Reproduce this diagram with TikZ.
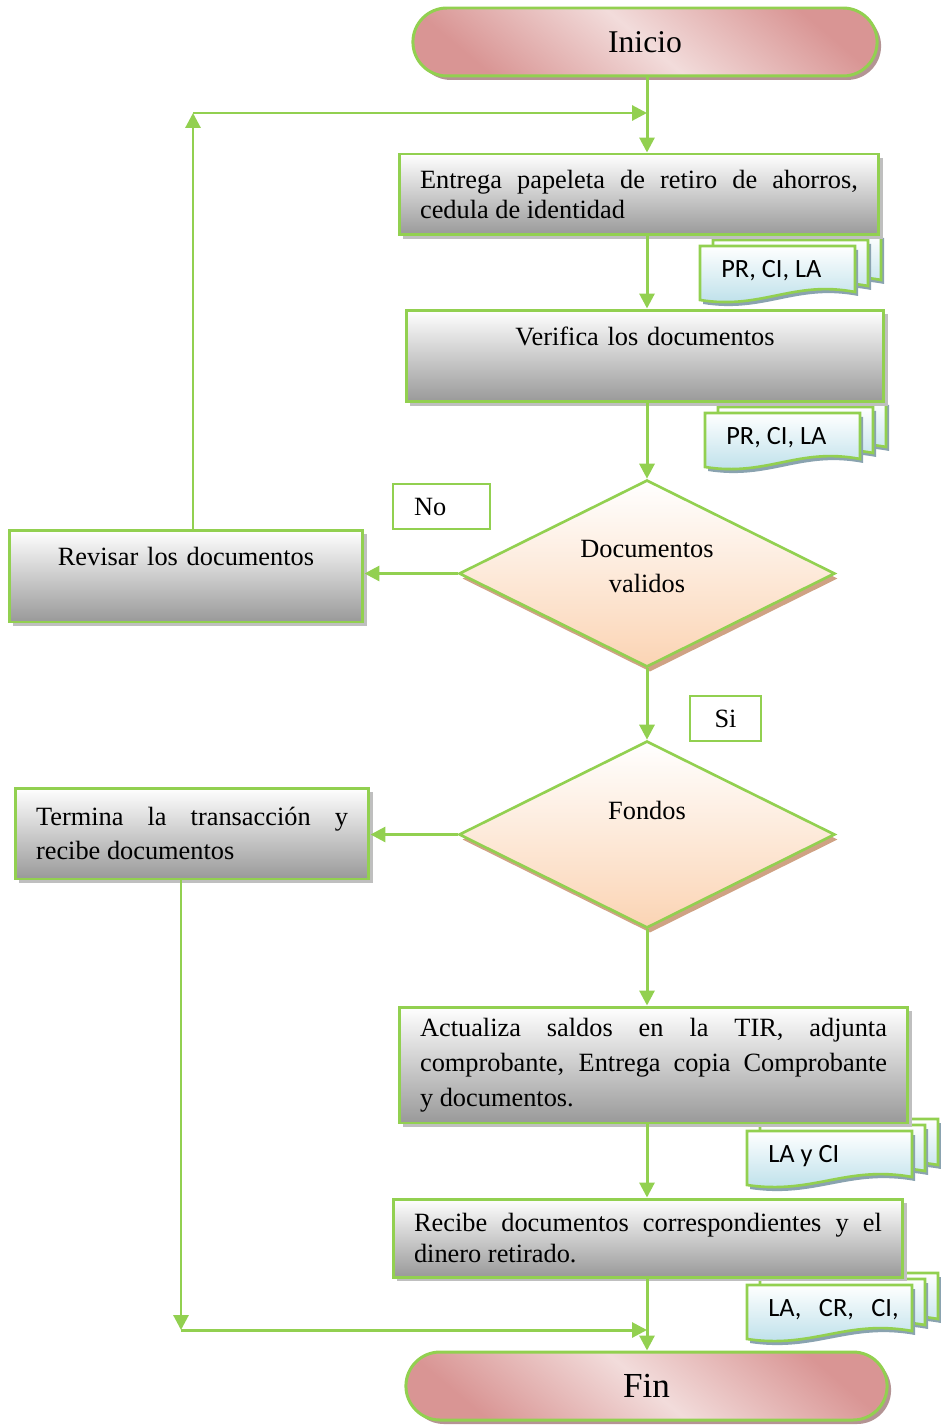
\documentclass[tikz,border=0pt]{standalone}
\usepackage{fontspec}
\setmainfont{Liberation Serif}
\newfontfamily\docfont{Carlito}
\usepackage{xcolor}
\usepackage{tikz}
\usetikzlibrary{shapes.geometric, shapes.misc, shadows, arrows.meta}

\definecolor{lime}{HTML}{92D050}
\definecolor{pinkdark}{HTML}{D99594}
\definecolor{pinklight}{HTML}{F2DCDB}
\definecolor{pinkshadow}{HTML}{B49494}
\definecolor{peach}{HTML}{FBD4B4}
\definecolor{peachshadow}{HTML}{CFA284}
\definecolor{docblue}{HTML}{B6DDE8}
\definecolor{docshadow}{HTML}{8AA3B0}
\definecolor{boxgray}{HTML}{999999}
\definecolor{boxshadow}{HTML}{BFBFBF}

\hyphenpenalty=10000
\exhyphenpenalty=10000

\begin{document}
\begin{tikzpicture}[x=0.02cm, y=-0.02cm,
        term/.style={draw=lime, line width=1.7pt, rounded rectangle, minimum height=1.36cm,
            top color=pinkdark, bottom color=pinkdark, middle color=pinklight, shading angle=-40,
            drop shadow={shadow xshift=0.08cm, shadow yshift=-0.08cm, fill=pinkshadow, opacity=1}},
        proc/.style={draw=lime, line width=1.7pt, top color=white, bottom color=boxgray,
            drop shadow={shadow xshift=0.08cm, shadow yshift=-0.08cm, fill=boxshadow, opacity=1},
            inner xsep=0.42cm, inner ysep=0pt, align=justify, font=\fontsize{15}{19.8}\selectfont},
        decision/.style={diamond, draw=lime, line width=1.5pt, minimum width=7.52cm, minimum height=3.74cm,
            inner sep=0pt, top color=white, bottom color=peach,
            drop shadow={shadow xshift=0.06cm, shadow yshift=-0.1cm, fill=peachshadow, opacity=1}},
        answer/.style={align=center, font=\fontsize{15}{20}\selectfont},
        tag/.style={draw=lime, line width=1.2pt, fill=white, minimum height=0.9cm, font=\fontsize{15}{18}\selectfont},
        sheet/.style={draw=lime, line width=1.5pt, top color=white, bottom color=docblue,
            drop shadow={shadow xshift=0.06cm, shadow yshift=-0.08cm, fill=docshadow, opacity=1}},
        doclabel/.style={font=\docfont\fontsize{15}{18}\selectfont, anchor=west, inner sep=0pt},
        arr/.style={-{Triangle[length=0.3cm, width=0.3cm]}, lime, line width=1.7pt},
        pics/docs/.style 2 args={code={
            \foreach \k in {2,1,0}
                \draw[sheet, shift={(13*\k,-6*\k)}] (0,0) -- (#1,0) -- (#1,46)
                    .. controls (0.6*#1,34) and (0.4*#1,64) .. (0,54) -- cycle;
            \node[doclabel] (-txt) at (21,25) {#2};
        }}
    ]
    \useasboundingbox (0,0) rectangle (940,1425);

    % Document stacks (drawn first, boxes lie on top)
    \pic (docsA) at (700,246) {docs={155}{PR, CI, LA}};
    \pic (docsB) at (705,413) {docs={155}{PR, CI, LA}};
    \pic (docsC) at (747,1131) {docs={165}{LA y CI}};
    \pic (docsD) at (747,1285) {docs={165}{LA,\hspace{0.35cm}CR,\hspace{0.35cm}CI,}};

    % Start block
    \node[term, minimum width=9.52cm, font=\fontsize{18}{22}\selectfont] (inicio) at (645,42) {Inicio};

    % Process blocks
    \node[proc, text width=8.76cm, minimum height=1.62cm, font=\fontsize{15}{17.5}\selectfont] (entrega) at (639,194.5)
        {Entrega papeleta de retiro de ahorros, cedula de identidad};
    \node[proc, text width=8.72cm, align=center, text height=0.7cm, text depth=1.14cm] (verifica) at (645,356)
        {Verifica los documentos};
    \node[proc, text width=6.24cm, align=center, text height=0.7cm, text depth=1.14cm] (revisar) at (186,576)
        {Revisar los documentos};
    \node[proc, text width=6.24cm, minimum height=1.82cm] (termina) at (192,833.5)
        {Termina la transacción y recibe documentos};
    \node[proc, text width=9.34cm, minimum height=2.32cm] (actualiza) at (653.5,1065)
        {Actualiza saldos en la TIR, adjunta comprobante, Entrega copia Comprobante\linebreak y documentos.};
    \node[proc, text width=9.36cm, minimum height=1.56cm, font=\fontsize{15}{17.5}\selectfont] (recibe) at (648,1238)
        {Recibe documentos correspondientes y el dinero retirado.};

    % Decisions
    \node[decision, label={[answer, yshift=0.14cm]center:Documentos\\validos}] (d1) at (647,573.5) {};
    \node[decision, label={[answer, yshift=0.48cm]center:Fondos}] (d2) at (647,834.5) {};

    % Answer tags
    \node[tag, minimum width=1.94cm, text width=1.1cm, align=left] (no) at (441.5,506.5) {No};
    \node[tag, minimum width=1.42cm] (si) at (725.5,718.5) {Si};

    % End block
    \node[term, minimum width=9.86cm, font=\fontsize{20}{24}\selectfont] (fin) at (646.5,1386) {Fin};

    % Corners of the return lines
    \coordinate (loopc) at (193,113);
    \coordinate (retc) at (181,1330);

    % Flow
    \draw[arr] (inicio.south -| d1) -- (entrega.north -| d1);
    \draw[arr] (revisar.north -| loopc) -- (loopc);
    \draw[arr] (loopc) -- (loopc -| d1);
    \draw[arr] (entrega.south -| d1) -- (verifica.north -| d1);
    \draw[arr] (verifica.south -| d1) -- (d1.north);
    \draw[arr] (d1.west) -- (d1.west -| revisar.east);
    \draw[arr] (d1.south) -- (d2.north);
    \draw[arr] (d2.west) -- (d2.west -| termina.east);
    \draw[arr] (termina.south -| retc) -- (retc);
    \draw[arr] (retc) -- (retc -| d1);
    \draw[arr] (d2.south) -- (actualiza.north -| d2);
    \draw[arr] (actualiza.south -| d2) -- (recibe.north -| d2);
    \draw[arr] (recibe.south -| d2) -- (fin.north -| d2);

\end{tikzpicture}
\end{document}
